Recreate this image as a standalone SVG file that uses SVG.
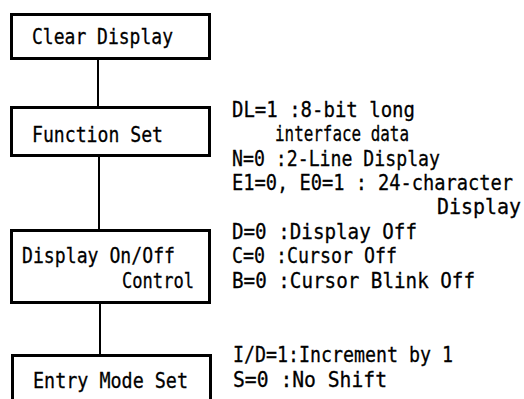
<svg xmlns="http://www.w3.org/2000/svg" width="524" height="399" viewBox="0 0 524 399">
<style>
.box{fill:#fff;stroke:#000;stroke-width:3}
.t{font-family:"DejaVu Sans Mono","Liberation Mono",monospace;font-size:18px;fill:#000;stroke:#000;stroke-width:0.25}
.c{stroke:#000;stroke-width:2;fill:none}
</style>
<rect width="524" height="399" fill="#fff"/>
<g id="connectors">
<line class="c" x1="98" y1="60" x2="98" y2="106"/>
<line class="c" x1="99" y1="157" x2="99" y2="229"/>
<line class="c" x1="100" y1="304" x2="100" y2="354"/>
</g>
<g id="clear-display">
<rect class="box" x="11.5" y="14.5" width="198" height="44"/>
<text class="t" transform="translate(32,44) scale(1,1.15)" textLength="141" lengthAdjust="spacingAndGlyphs">Clear Display</text>
</g>
<g id="function-set">
<rect class="box" x="11.5" y="107.5" width="198" height="48"/>
<text class="t" transform="translate(32,142) scale(1,1.15)" textLength="131" lengthAdjust="spacingAndGlyphs">Function Set</text>
</g>
<g id="display-control">
<rect class="box" x="11.5" y="230.5" width="198" height="72"/>
<text class="t" transform="translate(22,263) scale(1,1.15)" textLength="153" lengthAdjust="spacingAndGlyphs">Display On/Off</text>
<text class="t" transform="translate(122,288) scale(1,1.15)" textLength="72" lengthAdjust="spacingAndGlyphs">Control</text>
</g>
<g id="entry-mode-set">
<rect class="box" x="12.5" y="355.5" width="198" height="60"/>
<text class="t" transform="translate(33,388) scale(1,1.15)" textLength="155" lengthAdjust="spacingAndGlyphs">Entry Mode Set</text>
</g>
<g id="notes">
<text class="t" transform="translate(232,117) scale(1,1.15)" textLength="183" lengthAdjust="spacingAndGlyphs">DL=1 :8-bit long</text>
<text class="t" transform="translate(275,141) scale(1,1.15)" textLength="134" lengthAdjust="spacingAndGlyphs">interface data</text>
<text class="t" transform="translate(232,166) scale(1,1.15)" textLength="208" lengthAdjust="spacingAndGlyphs">N=0 :2-Line Display</text>
<text class="t" transform="translate(232,190) scale(1,1.15)" textLength="281" lengthAdjust="spacingAndGlyphs">E1=0, E0=1 : 24-character</text>
<text class="t" transform="translate(437,214) scale(1,1.15)" textLength="84" lengthAdjust="spacingAndGlyphs">Display</text>
<text class="t" transform="translate(232,239) scale(1,1.15)" textLength="185" lengthAdjust="spacingAndGlyphs">D=0 :Display Off</text>
<text class="t" transform="translate(232,263) scale(1,1.15)" textLength="165" lengthAdjust="spacingAndGlyphs">C=0 :Cursor Off</text>
<text class="t" transform="translate(232,288) scale(1,1.15)" textLength="243" lengthAdjust="spacingAndGlyphs">B=0 :Cursor Blink Off</text>
<text class="t" transform="translate(233,362) scale(1,1.15)" textLength="220" lengthAdjust="spacingAndGlyphs">I/D=1:Increment by 1</text>
<text class="t" transform="translate(233,387) scale(1,1.15)" textLength="154" lengthAdjust="spacingAndGlyphs">S=0 :No Shift</text>
</g>
</svg>
